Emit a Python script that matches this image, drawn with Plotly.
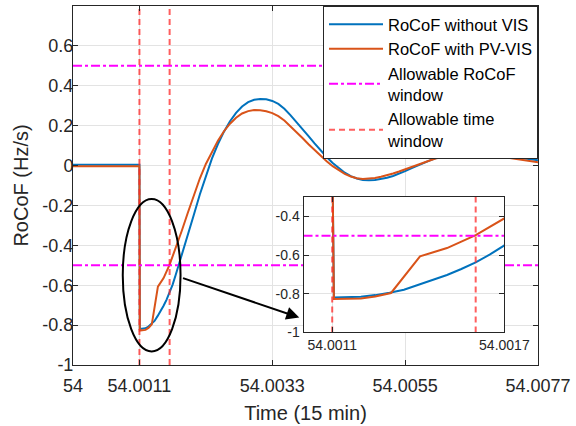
import plotly.graph_objects as go

# ---------------- data ----------------
t_blue = [54.0, 54.0011, 54.001106, 54.0012, 54.00125, 54.0013, 54.00135, 54.0014, 54.00145,
          54.0015, 54.00155, 54.0016, 54.00165, 54.0017, 54.0018, 54.0019, 54.0020, 54.0021,
          54.0022, 54.0023, 54.0024, 54.0025, 54.0026, 54.0027, 54.0028, 54.0029, 54.0030,
          54.0031, 54.0032, 54.0033, 54.0034, 54.0035, 54.0036, 54.0037, 54.0038, 54.0039,
          54.0040, 54.0041, 54.0042, 54.0043, 54.0044, 54.0045, 54.0046, 54.0047, 54.0048,
          54.0049, 54.0050, 54.0051, 54.0052, 54.0053, 54.0054, 54.0055, 54.0056, 54.0057,
          54.0058, 54.0059, 54.0060, 54.0061, 54.0062, 54.0063, 54.0064, 54.0065, 54.0066,
          54.0067, 54.0068, 54.0069, 54.0070, 54.0071, 54.0072, 54.0073, 54.0074, 54.0075,
          54.0076, 54.0077]
rocof_blue = [0.0035, 0.0035, -0.819, -0.816, -0.807, -0.795, -0.779, -0.755, -0.73,
              -0.703, -0.672, -0.638, -0.597, -0.549, -0.452, -0.352, -0.248, -0.145,
              -0.05, 0.035, 0.108, 0.17, 0.222, 0.264, 0.296, 0.318, 0.33,
              0.334, 0.332, 0.324, 0.309, 0.285, 0.253, 0.219, 0.184, 0.148,
              0.111, 0.076, 0.043, 0.013, -0.013, -0.036, -0.053, -0.065, -0.072,
              -0.074, -0.072, -0.068, -0.061, -0.052, -0.041, -0.028, -0.014, 0.0,
              0.013, 0.025, 0.036, 0.045, 0.052, 0.058, 0.062, 0.064, 0.064,
              0.063, 0.061, 0.058, 0.054, 0.05, 0.046, 0.042, 0.038, 0.034,
              0.03, 0.027]

t_orange = [54.0, 54.0011, 54.001106, 54.0012, 54.00125, 54.001305, 54.001406, 54.0015,
            54.0016, 54.0017, 54.0018, 54.0019, 54.0020, 54.0021, 54.0022, 54.0023, 54.0024,
            54.0025, 54.0026, 54.0027, 54.0028, 54.0029, 54.0030, 54.0031, 54.0032, 54.0033,
            54.0034, 54.0035, 54.0036, 54.0037, 54.0038, 54.0039, 54.0040, 54.0041, 54.0042,
            54.0043, 54.0044, 54.0045, 54.0046, 54.0047, 54.0048, 54.0049, 54.0050, 54.0051,
            54.0052, 54.0053, 54.0054, 54.0055, 54.0056, 54.0057, 54.0058, 54.0059, 54.0060,
            54.0061, 54.0062, 54.0063, 54.0064, 54.0065, 54.0066, 54.0067, 54.0068, 54.0069,
            54.0070, 54.0071, 54.0072, 54.0073, 54.0074, 54.0075, 54.0076, 54.0077]
rocof_orange = [-0.003, -0.003, -0.8275, -0.824, -0.814, -0.796, -0.607, -0.564,
                -0.497, -0.416, -0.328, -0.238, -0.148, -0.065, 0.008, 0.07, 0.125,
                0.172, 0.21, 0.24, 0.261, 0.273, 0.278, 0.277, 0.272, 0.263,
                0.248, 0.226, 0.198, 0.168, 0.138, 0.107, 0.077, 0.049, 0.022,
                -0.003, -0.024, -0.042, -0.055, -0.064, -0.067, -0.066, -0.062, -0.056,
                -0.049, -0.04, -0.03, -0.019, -0.007, 0.005, 0.016, 0.026, 0.035,
                0.042, 0.048, 0.053, 0.056, 0.058, 0.058, 0.057, 0.055, 0.052,
                0.048, 0.044, 0.039, 0.035, 0.03, 0.026, 0.021, 0.017]

rocof_limits = [0.5, -0.5]
time_window = [54.0011, 54.0016]

main_xrange = [54.0, 54.0077]
main_yrange = [-1.0, 0.8]
main_xticks = [54.0, 54.0011, 54.0033, 54.0055, 54.0077]
main_xticktext = ["54", "54.0011", "54.0033", "54.0055", "54.0077"]
main_yticks = [-1, -0.8, -0.6, -0.4, -0.2, 0, 0.2, 0.4, 0.6]
main_yticktext = ["-1", "-0.8", "-0.6", "-0.4", "-0.2", "0", "0.2", "0.4", "0.6"]

inset_xrange = [54.0010, 54.0017]
inset_yrange = [-1.0, -0.3]
inset_xticks = [54.0011, 54.0017]
inset_xticktext = ["54.0011", "54.0017"]
inset_yticks = [-1, -0.8, -0.6, -0.4]
inset_yticktext = ["-1", "-0.8", "-0.6", "-0.4"]

ellipse_x = [54.000824, 54.001781]
ellipse_y = [-0.932, -0.168]
arrow_from = (54.001797, -0.562)
arrow_to = (54.003747, -0.762)

# ---------------- style ----------------
BLUE = "#0072BD"
ORANGE = "#D95319"
MAGENTA = "#FF00FF"
RED = "rgba(255,40,40,0.75)"
TXT = "#262626"
GRID = "#E3E3E3"
FONT = "Liberation Sans, Arial, sans-serif"


def hlines(values, xr):
    xs, ys = [], []
    for v in values:
        xs += [xr[0], xr[1], None]
        ys += [v, v, None]
    return xs, ys


def vlines(values, yr):
    xs, ys = [], []
    for v in values:
        xs += [v, v, None]
        ys += [yr[0], yr[1], None]
    return xs, ys


fig = go.Figure()

for xa, ya, xr, yr, show in [("x", "y", main_xrange, main_yrange, True),
                             ("x2", "y2", inset_xrange, inset_yrange, False)]:
    fig.add_trace(go.Scatter(x=t_blue, y=rocof_blue, mode="lines", name="RoCoF without VIS",
                             line=dict(color=BLUE, width=2), xaxis=xa, yaxis=ya, showlegend=show))
    fig.add_trace(go.Scatter(x=t_orange, y=rocof_orange, mode="lines", name="RoCoF with PV-VIS",
                             line=dict(color=ORANGE, width=2), xaxis=xa, yaxis=ya, showlegend=show))
    hx, hy = hlines(rocof_limits, xr)
    fig.add_trace(go.Scatter(x=hx, y=hy, mode="lines", name="Allowable RoCoF<br>window",
                             line=dict(color=MAGENTA, width=2, dash="9px,3px,3px,3px"),
                             xaxis=xa, yaxis=ya, showlegend=show, connectgaps=False))
    vx, vy = vlines(time_window, yr)
    fig.add_trace(go.Scatter(x=vx, y=vy, mode="lines", name="Allowable time<br>window",
                             line=dict(color=RED, width=2, dash="6px,4px"),
                             xaxis=xa, yaxis=ya, showlegend=show, connectgaps=False))

axis_common = dict(showline=True, linecolor=TXT, linewidth=1, mirror="allticks",
                   ticks="inside", ticklen=5, tickcolor=TXT, showgrid=True, gridcolor=GRID,
                   zeroline=False, tickfont=dict(family=FONT, size=18, color=TXT))
inset_common = {**axis_common, "tickfont": dict(family=FONT, size=14, color=TXT)}

fig.update_layout(
    width=576, height=426,
    margin=dict(l=73, r=33, t=5, b=60),
    paper_bgcolor="white", plot_bgcolor="white",
    font=dict(family=FONT, color=TXT),
    xaxis=dict(range=main_xrange, tickmode="array", tickvals=main_xticks, ticktext=main_xticktext,
               ticklabelstandoff=4,
               title=dict(text="Time (15 min)", font=dict(family=FONT, size=20, color=TXT), standoff=11),
               domain=[0, 1], **axis_common),
    yaxis=dict(range=main_yrange, tickmode="array", tickvals=main_yticks, ticktext=main_yticktext,
               ticklabelstandoff=-5,
               title=dict(text="RoCoF (Hz/s)", font=dict(family=FONT, size=20, color=TXT), standoff=8),
               domain=[0, 1], **axis_common),
    xaxis2=dict(range=inset_xrange, tickmode="array", tickvals=inset_xticks, ticktext=inset_xticktext,
                domain=[0.4957, 0.9277], anchor="y2", **inset_common),
    yaxis2=dict(range=inset_yrange, tickmode="array", tickvals=inset_yticks, ticktext=inset_yticktext,
                domain=[0.0906, 0.4681], anchor="x2", **inset_common),
    legend=dict(x=1, xanchor="right", y=1, yanchor="top", bgcolor="white",
                bordercolor=TXT, borderwidth=1, itemwidth=54,
                font=dict(family=FONT, size=16.5, color="black"), tracegroupgap=0),
    showlegend=True,
)

fig.add_shape(type="circle", xref="x", yref="y",
              x0=ellipse_x[0], x1=ellipse_x[1], y0=ellipse_y[0], y1=ellipse_y[1],
              line=dict(color="black", width=2), layer="above")

fig.add_annotation(x=arrow_to[0], y=arrow_to[1], ax=arrow_from[0], ay=arrow_from[1],
                   xref="x", yref="y", axref="x", ayref="y", text="",
                   showarrow=True, arrowhead=2, arrowsize=1.3, arrowwidth=2, arrowcolor="black")

fig.write_html("out.html")
